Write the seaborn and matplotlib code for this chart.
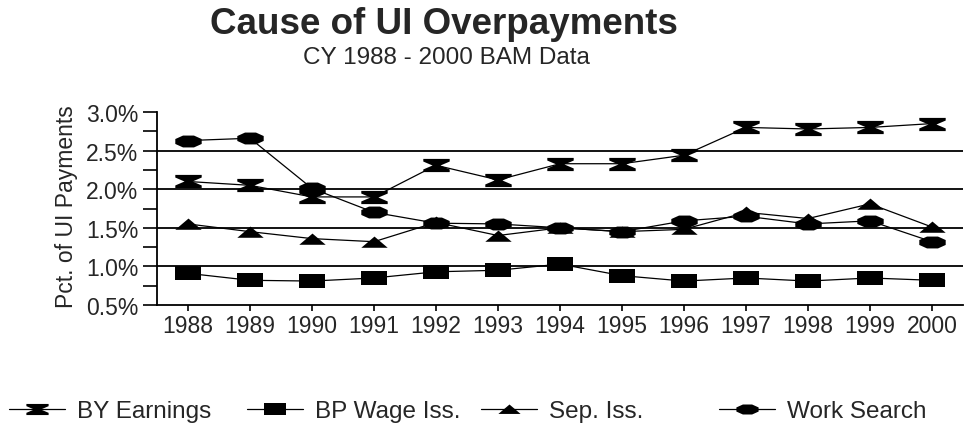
import numpy as np
import pandas as pd
import matplotlib
matplotlib.use("Agg")
import matplotlib.pyplot as plt
import seaborn as sns
from matplotlib.path import Path
from matplotlib.lines import Line2D
from matplotlib.ticker import MultipleLocator, FormatStrFormatter

# estilo base
sns.set_theme(style="ticks")
plt.rcParams['font.family'] = ['Liberation Sans', 'DejaVu Sans']

# datos (en %)
years = [1988, 1989, 1990, 1991, 1992, 1993, 1994, 1995, 1996, 1997, 1998, 1999, 2000]
by_earnings = [2.10, 2.05, 1.90, 1.90, 2.31, 2.12, 2.33, 2.33, 2.44, 2.80, 2.78, 2.80, 2.85]
bp_wage = [0.91, 0.82, 0.81, 0.85, 0.93, 0.95, 1.03, 0.88, 0.81, 0.85, 0.81, 0.85, 0.82]
sep_iss = [1.55, 1.45, 1.36, 1.32, 1.57, 1.40, 1.50, 1.45, 1.48, 1.70, 1.62, 1.81, 1.51]
work_search = [2.63, 2.66, 2.01, 1.70, 1.56, 1.55, 1.50, 1.45, 1.59, 1.65, 1.55, 1.59, 1.32]

series_names = ["BY Earnings", "BP Wage Iss.", "Sep. Iss.", "Work Search"]

df = pd.DataFrame({
    "Year": years,
    "BY Earnings": by_earnings,
    "BP Wage Iss.": bp_wage,
    "Sep. Iss.": sep_iss,
    "Work Search": work_search,
})
long_df = df.melt(id_vars="Year", var_name="Serie", value_name="Pct")

# marcadores estirados (como en el original)
hourglass = Path([(-1, 0.5), (1, 0.5), (1, 0.3), (0.3, 0.0), (1, -0.3), (1, -0.5),
                  (-1, -0.5), (-1, -0.3), (-0.3, 0.0), (-1, 0.3), (-1, 0.5)])
rect = Path([(-1, 0.5), (1, 0.5), (1, -0.5), (-1, -0.5), (-1, 0.5)])
tri = Path([(-1, -0.4), (1, -0.4), (0, 0.45), (-1, -0.4)])
ang = np.deg2rad(22.5 + 45 * np.arange(9))
octo = Path(np.column_stack([np.cos(ang), 0.45 * np.sin(ang)]))
markers = {"BY Earnings": hourglass, "BP Wage Iss.": rect, "Sep. Iss.": tri, "Work Search": octo}

fig = plt.figure(figsize=(9.64, 4.27), dpi=100)
ax = fig.add_axes([157 / 964, 1 - 306 / 427, 806 / 964, 193 / 427])

# lineas de cuadricula
for v in [1.0, 1.5, 2.0, 2.5]:
    ax.axhline(v, color="black", lw=1.3, zorder=1)

sns.lineplot(data=long_df, x="Year", y="Pct", hue="Serie", style="Serie",
             palette=["black"] * 4, markers=markers, dashes=False,
             markersize=19, linewidth=0.9, markeredgewidth=0,
             legend=False, ax=ax, zorder=3)

ax.set_xlim(1987.5, 2000.5)
ax.set_ylim(0.5, 3.0)
ax.set_xticks(years)
ax.set_xticklabels([str(y) for y in years], fontsize=16.5)
ax.yaxis.set_major_locator(MultipleLocator(0.5))
ax.yaxis.set_minor_locator(MultipleLocator(0.25))
ax.yaxis.set_major_formatter(FormatStrFormatter("%.1f%%"))
ax.tick_params(axis="y", which="both", length=10, width=1.2, color="black",
               labelsize=16.5, pad=3.5, direction="out")
ax.tick_params(axis="x", length=4.5, width=1.2, color="black", pad=2, direction="out")
ax.set_xlabel("")
ax.set_ylabel("")
for s in ["top", "right"]:
    ax.spines[s].set_visible(False)
for s in ["left", "bottom"]:
    ax.spines[s].set_color("black")
    ax.spines[s].set_linewidth(1.3)

fig.text(66 / 964, 1 - 207 / 427, "Pct. of UI Payments", rotation=90,
         ha="center", va="center", fontsize=16.5)
fig.text(444 / 964, 1 - 25 / 427, "Cause of UI Overpayments", ha="center", va="center",
         fontsize=26.5, fontweight="bold")
fig.text(446 / 964, 1 - 58.5 / 427, "CY 1988 - 2000 BAM Data", ha="center", va="center",
         fontsize=17.5)

# leyenda en columnas fijas
legend_x = [9 / 964, 247 / 964, 481 / 964, 719 / 964]
for name, x0 in zip(series_names, legend_x):
    h = Line2D([], [], color="black", lw=0.9, marker=markers[name],
               markersize=16, markeredgewidth=0)
    leg = fig.legend(handles=[h], labels=[name], loc="center left",
                     bbox_to_anchor=(x0, 1 - 412 / 427), frameon=False,
                     fontsize=17.5, handlelength=2.3, handletextpad=0.5,
                     borderaxespad=0, borderpad=0)

fig.savefig("out.png", dpi=100)
